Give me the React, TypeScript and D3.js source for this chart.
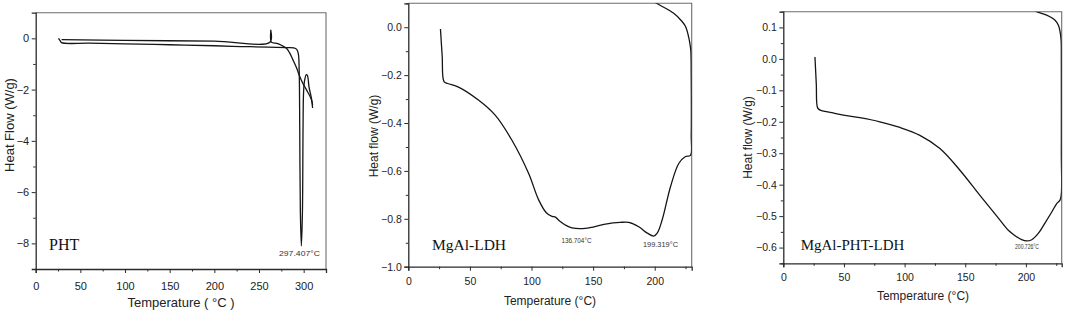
import React, {useRef, useEffect} from 'react'
import * as d3 from 'd3';

// PHT: two traces (lower one carries the melting dip, upper one has the small spike)
const phtLower: [number, number][] = [
  [25.5, 0], [27.5, -0.1], [29, -0.17], [60, -0.19], [100, -0.22], [150, -0.25], [200, -0.29],
  [230, -0.32], [260, -0.34], [280, -0.36], [289, -0.37], [292, -0.42], [294, -0.6],
  [295, -1.3], [295.6, -3.5], [296.3, -6.8], [297.4, -8.1], [298.6, -6.8], [299.3, -3.5],
  [299.9, -2.1], [301, -1.65], [303, -1.42], [304.2, -1.45], [306, -1.9], [308.5, -2.3], [310, -2.6]
];
const phtUpper: [number, number][] = [
  [29, -0.05], [100, -0.08], [200, -0.11], [262.5, -0.14], [263.2, 0.32], [263.8, -0.15],
  [270, -0.2], [275, -0.27], [280.7, -0.39], [284, -0.55], [288, -0.84], [292, -1.15],
  [295.6, -1.49], [299, -1.75], [303, -2.0], [308.7, -2.4], [310, -2.72]
];

// MgAl-LDH
const ldhCurve: [number, number][] = [
  [26.1, -0.007], [27.5, -0.12], [29, -0.227], [32, -0.235], [40.7, -0.25], [56.9, -0.304],
  [70.5, -0.367], [84, -0.471], [97.6, -0.61], [105.7, -0.72], [112, -0.775], [116.6, -0.79],
  [119, -0.792], [123, -0.81], [127.4, -0.826], [132.8, -0.838], [143.7, -0.84], [160, -0.822],
  [172, -0.815], [178.9, -0.815], [187, -0.833], [194, -0.86], [199.2, -0.872], [202, -0.86],
  [206, -0.805], [212.8, -0.666], [219.5, -0.569], [225, -0.54], [229, -0.535], [229.6, -0.45],
  [229.6, -0.2], [229.3, -0.1], [228.5, -0.067], [227.5, -0.04], [225, 0.003], [222, 0.025],
  [215.4, 0.058], [205, 0.09], [198, 0.11]
];

// MgAl-PHT-LDH
const phtLdhCurve: [number, number][] = [
  [26.1, 0.006], [27.2, -0.08], [28.2, -0.155], [30, -0.162], [40, -0.171], [49.5, -0.179],
  [63, -0.187], [79.6, -0.2], [96.1, -0.218], [112.6, -0.243], [129.1, -0.285], [145.6, -0.354],
  [162.1, -0.434], [176, -0.5], [185.5, -0.545], [191, -0.562], [196.5, -0.575], [200.7, -0.579],
  [204.8, -0.575], [210.2, -0.555], [215.7, -0.522], [221.3, -0.487], [225.4, -0.46],
  [228.1, -0.449], [229.2, -0.43], [229.2, -0.3], [229.2, 0.0],
  [229, 0.06], [228, 0.09], [226.8, 0.107], [224, 0.123], [217.1, 0.139], [208.9, 0.15], [205, 0.16]
];

const xTicksPht = [0, 50, 100, 150, 200, 250, 300];
const xTicksLdh = [0, 50, 100, 150, 200];
const yTicksPht = [0, -2, -4, -6, -8];
const yTicksLdh = [0, -0.2, -0.4, -0.6, -0.8, -1.0];
const yTicksPhtLdh = [0.1, 0, -0.1, -0.2, -0.3, -0.4, -0.5, -0.6];

const panels = [
  {id: 'p1', left: 35.7, right: 326, top: 12.7, bottom: 269, xDomain: [0, 325], yDomain: [-9, 1],
    xTicks: xTicksPht, xMinor: d3.range(25, 325, 50), yTicks: yTicksPht, yMinor: [-1, -3, -5, -7],
    yFmt: d3.format('d'), curves: [phtLower, phtUpper], yTitle: 'Heat Flow (W/g)', yTitleX: 9, yTitleY: 125,
    xTitle: 'Temperature ( °C )', xTitleX: 181, xTitleY: 307, xLabY: 290, fs: 11, titleFs: 13,
    name: 'PHT', nameX: 49, nameY: 249.5, nameFs: 16,
    notes: [{t: '297.407°C', x: 279, y: 256, w: 41}]},
  {id: 'p2', left: 408.3, right: 691.7, top: 3.3, bottom: 266.7, xDomain: [0, 230], yDomain: [-1.0, 0.1],
    xTicks: xTicksLdh, xMinor: d3.range(25, 230, 50), yTicks: yTicksLdh, yMinor: [0.1, -0.1, -0.3, -0.5, -0.7, -0.9],
    yFmt: d3.format('.1f'), curves: [ldhCurve], yTitle: 'Heat flow (W/g)', yTitleX: 374, yTitleY: 136,
    xTitle: 'Temperature (°C)', xTitleX: 550, xTitleY: 305, xLabY: 286, fs: 10.5, titleFs: 12,
    name: 'MgAl-LDH', nameX: 432, nameY: 249.5, nameFs: 15.5,
    notes: [{t: '136.704°C', x: 561.5, y: 242.5, w: 30}, {t: '199.319°C', x: 643, y: 247, w: 35}]},
  {id: 'p3', left: 783.3, right: 1061.7, top: 11.7, bottom: 263.3, xDomain: [0, 229.5], yDomain: [-0.65, 0.15],
    xTicks: xTicksLdh, xMinor: d3.range(25, 230, 50), yTicks: yTicksPhtLdh,
    yMinor: [0.15, 0.05, -0.05, -0.15, -0.25, -0.35, -0.45, -0.55, -0.65],
    yFmt: d3.format('.1f'), curves: [phtLdhCurve], yTitle: 'Heat flow (W/g)', yTitleX: 748, yTitleY: 137.5,
    xTitle: 'Temperature (°C)', xTitleX: 923, xTitleY: 300, xLabY: 282, fs: 10.5, titleFs: 12,
    name: 'MgAl-PHT-LDH', nameX: 800.7, nameY: 249.5, nameFs: 15,
    notes: [{t: '200.726°C', x: 1015, y: 249, w: 24}]},
];

const sans = 'Liberation Sans, Arial, sans-serif';
const serif = 'Liberation Serif, Times New Roman, serif';

export default function App() {
  const ref = useRef<SVGSVGElement>(null);

  useEffect(() => {
    const svg = d3.select(ref.current);
    svg.selectAll('*').remove();

    panels.forEach(p => {
      const x = d3.scaleLinear().domain(p.xDomain).range([p.left, p.right]);
      const y = d3.scaleLinear().domain(p.yDomain).range([p.bottom, p.top]);
      const g = svg.append('g');

      g.append('clipPath').attr('id', 'clip-' + p.id)
        .append('rect')
        .attr('x', p.left).attr('y', p.top)
        .attr('width', p.right - p.left).attr('height', p.bottom - p.top);

      // top / right frame lines
      g.append('path')
        .attr('d', `M${p.left},${p.top}H${p.right}V${p.bottom}`)
        .attr('fill', 'none').attr('stroke', '#6d6d6d').attr('stroke-width', 1.1);

      const line = d3.line<[number, number]>()
        .x(d => x(d[0])).y(d => y(d[1]))
        .curve(d3.curveCatmullRom.alpha(0.5));

      g.append('g').attr('clip-path', `url(#clip-${p.id})`)
        .selectAll('path')
        .data(p.curves)
        .join('path')
        .attr('d', d => line(d))
        .attr('fill', 'none')
        .attr('stroke', '#151515')
        .attr('stroke-width', 1.3)
        .attr('stroke-linejoin', 'round');

      // minor ticks
      g.append('g').attr('transform', `translate(0,${p.bottom})`)
        .call(d3.axisBottom(x).tickValues(p.xMinor).tickSize(2.5).tickFormat(() => ''))
        .call(a => a.select('.domain').remove());
      g.append('g').attr('transform', `translate(${p.left},0)`)
        .call(d3.axisLeft(y).tickValues(p.yMinor).tickSize(2.5).tickFormat(() => ''))
        .call(a => a.select('.domain').remove());

      const xAxis = g.append('g').attr('transform', `translate(0,${p.bottom})`)
        .call(d3.axisBottom(x).tickValues(p.xTicks).tickSize(4).tickPadding(p.xLabY - p.bottom - 12).tickFormat(d3.format('d')));
      const yAxis = g.append('g').attr('transform', `translate(${p.left},0)`)
        .call(d3.axisLeft(y).tickValues(p.yTicks).tickSize(4).tickPadding(2.5).tickFormat(p.yFmt));

      [xAxis, yAxis].forEach(a => {
        a.select('.domain').attr('stroke', '#2a2a2a').attr('stroke-width', 1.3);
        a.selectAll('text').attr('font-family', sans).attr('font-size', p.fs).attr('fill', '#222');
      });
      g.selectAll('.tick line').attr('stroke', '#2a2a2a').attr('stroke-width', 1);

      g.append('text')
        .attr('transform', `translate(${p.yTitleX},${p.yTitleY}) rotate(-90)`)
        .attr('text-anchor', 'middle').attr('dominant-baseline', 'central')
        .attr('font-family', sans).attr('font-size', p.titleFs).attr('fill', '#222')
        .text(p.yTitle);

      g.append('text')
        .attr('x', p.xTitleX).attr('y', p.xTitleY)
        .attr('text-anchor', 'middle')
        .attr('font-family', sans).attr('font-size', p.titleFs).attr('fill', '#222')
        .text(p.xTitle);

      g.append('text')
        .attr('x', p.nameX).attr('y', p.nameY)
        .attr('font-family', serif).attr('font-size', p.nameFs).attr('fill', '#111')
        .text(p.name);

      g.selectAll('.note')
        .data(p.notes)
        .join('text')
        .attr('class', 'note')
        .attr('x', d => d.x).attr('y', d => d.y)
        .attr('textLength', d => d.w).attr('lengthAdjust', 'spacingAndGlyphs')
        .attr('font-family', sans).attr('font-size', 7).attr('fill', '#333')
        .text(d => d.t);
    });
  }, []);

  return (
    <div style={{position: 'absolute', left: 0, top: 0}}>
      <svg width={1065} height={314} ref={ref} style={{display: 'block', background: '#fff'}} />
    </div>
  )
}
